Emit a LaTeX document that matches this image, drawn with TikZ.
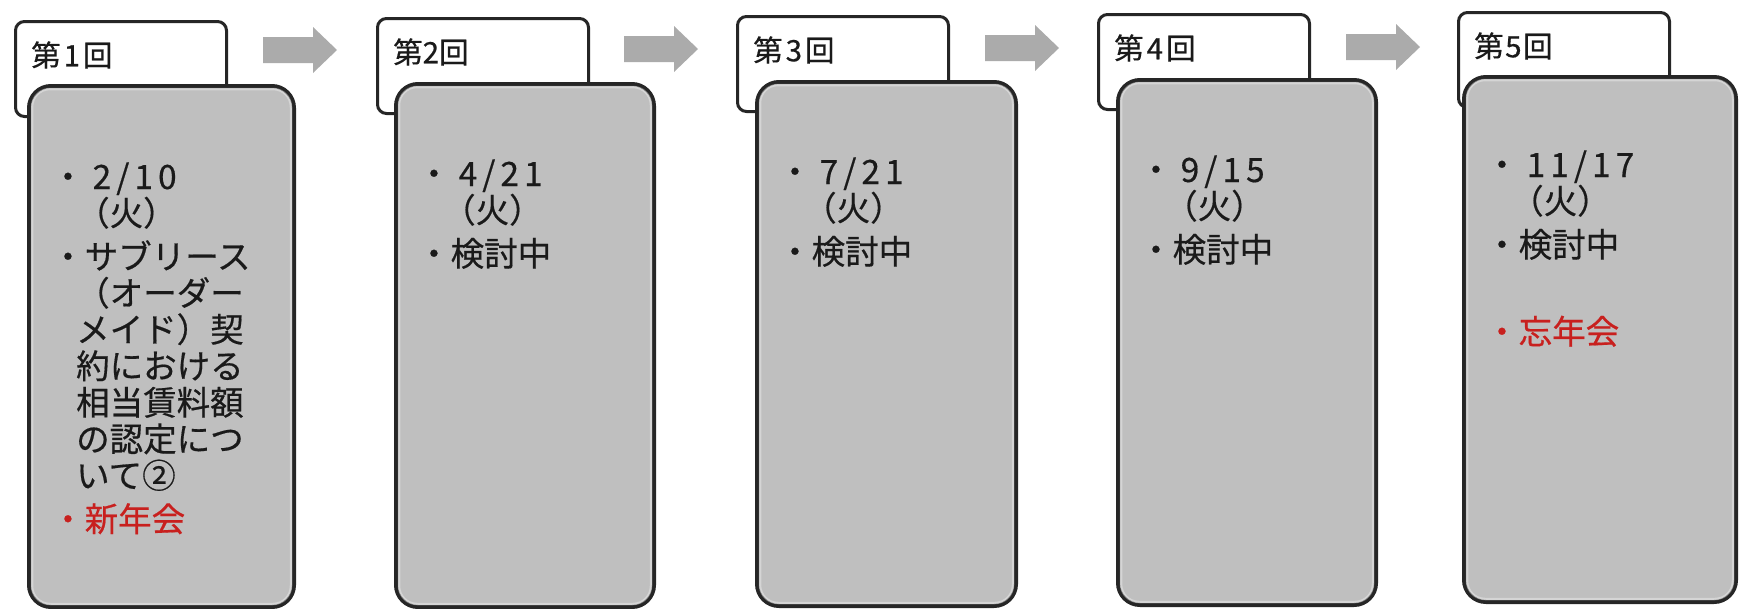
\documentclass[tikz,border=0pt]{standalone}
\usepackage{fontspec}
\usetikzlibrary{calc}
\newfontfamily\jp{Noto Sans CJK JP}
\newfontfamily\jpb{Noto Sans CJK JP}[FakeBold=0.5]
\definecolor{edge}{HTML}{262626}
\definecolor{boxfill}{HTML}{BFBFBF}
\definecolor{arrowfill}{HTML}{ABABAB}
\definecolor{redtxt}{HTML}{C8201E}
\definecolor{bodytxt}{HTML}{1A1A1A}
\newcommand\dg[1]{\kern8pt{\addfontfeature{LetterSpace=15}#1}}
\newcommand\hd[1]{\kern3pt{\addfontfeature{LetterSpace=10}#1}\kern3pt}
\newcommand\ind{\hspace*{25pt}}
\tikzset{
  hdr/.style={draw=edge, line width=3pt, fill=white, rounded corners=9pt,
    minimum width=211pt, minimum height=95pt, anchor=north west, inner sep=0pt},
  mainbox/.style={draw=edge, line width=4pt, fill=boxfill, rounded corners=22pt,
    anchor=north west, inner sep=0pt},
  glow/.style={draw=white, opacity=0.35, line width=2.5pt, rounded corners=18pt},
  hdrtext/.style={anchor=west, inner sep=0pt, text=bodytxt,
    font=\jpb\fontsize{29.5}{33}\selectfont},
  body/.style={anchor=base west, inner sep=0pt, text=bodytxt,
    font=\jpb\fontsize{33.5}{36.5}\selectfont},
  arr/.style={fill=arrowfill},
}
\begin{document}
\begin{tikzpicture}[x=1pt,y=-1pt]
\useasboundingbox (0,0) rectangle (1739,608);

% ---------- column 1
\node[hdr] (h1) at (14,20) {};
\node[hdrtext] (h1t) at (31,55) {第\hd{1}回};
\node[mainbox, minimum width=265pt, minimum height=521pt] (m1) at (27,84) {};
\draw[glow] ($(m1.north west)+(5,5)$) rectangle ($(m1.south east)+(-5,-5)$);
\node[body] (t1) at (51,189) {\parbox[t]{240pt}{\raggedright
 ・\dg{2/10}\\
 \ind（火）\\[7pt]
 ・サブリース\\
 \ind（オーダー\\
 \ind メイド）契\\
 \ind 約における\\
 \ind 相当賃料額\\
 \ind の認定につ\\
 \ind いて②\\[7pt]
 {\color{redtxt}・新年会}}};

% ---------- column 2
\node[hdr] (h2) at (376,17) {};
\node[hdrtext] (h2t) at (393,52) {第2回};
\node[mainbox, minimum width=258pt, minimum height=523pt] (m2) at (394,82) {};
\draw[glow] ($(m2.north west)+(5,5)$) rectangle ($(m2.south east)+(-5,-5)$);
\node[body] (t2) at (417,186) {\parbox[t]{220pt}{\raggedright
 ・\dg{4/21}\\
 \ind（火）\\[7pt]
 ・検討中}};

% ---------- column 3
\node[hdr] (h3) at (736,15) {};
\node[hdrtext] (h3t) at (753,50) {第\hd{3}回};
\node[mainbox, minimum width=259pt, minimum height=524pt] (m3) at (755,80) {};
\draw[glow] ($(m3.north west)+(5,5)$) rectangle ($(m3.south east)+(-5,-5)$);
\node[body] (t3) at (778,184) {\parbox[t]{220pt}{\raggedright
 ・\dg{7/21}\\
 \ind（火）\\[7pt]
 ・検討中}};

% ---------- column 4
\node[hdr] (h4) at (1097,13) {};
\node[hdrtext] (h4t) at (1114,48) {第\hd{4}回};
\node[mainbox, minimum width=258pt, minimum height=525pt] (m4) at (1116,78) {};
\draw[glow] ($(m4.north west)+(5,5)$) rectangle ($(m4.south east)+(-5,-5)$);
\node[body] (t4) at (1139,182) {\parbox[t]{220pt}{\raggedright
 ・\dg{9/15}\\
 \ind（火）\\[7pt]
 ・検討中}};

% ---------- column 5
\node[hdr] (h5) at (1457,11) {};
\node[hdrtext] (h5t) at (1474,46) {第\kern1.5pt5\kern1.5pt回};
\node[mainbox, minimum width=272pt, minimum height=525pt] (m5) at (1462,75) {};
\draw[glow] ($(m5.north west)+(5,5)$) rectangle ($(m5.south east)+(-5,-5)$);
\node[body] (t5) at (1485,177) {\parbox[t]{230pt}{\raggedright
 ・\dg{11/17}\\
 \ind（火）\\[7pt]
 ・検討中\\[7pt]
 \mbox{}\\[7pt]
 {\color{redtxt}・忘年会}}};

% ---------- block arrows
\coordinate (a1) at (263,50);
\coordinate (a2) at (624,49);
\coordinate (a3) at (985,48);
\coordinate (a4) at (1346,47);
\foreach \a in {a1,a2,a3,a4}{
  \fill[arr, shift={(\a)}] (0,-13) -- (50,-13) -- (50,-23) -- (74,0)
    -- (50,23) -- (50,13) -- (0,13) -- cycle;
}
\end{tikzpicture}
\end{document}
